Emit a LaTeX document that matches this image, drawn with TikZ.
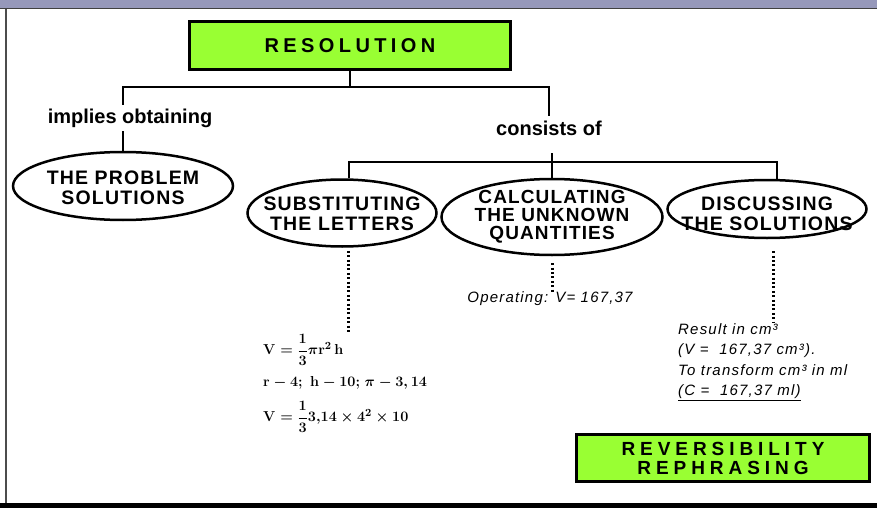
\documentclass[tikz,border=0pt]{standalone}
\usepackage{fontspec}
\setsansfont{Liberation Sans}
\newfontface\titleface[LetterSpace=22]{Liberation Sans Bold}
\newfontface\revface[LetterSpace=26]{Liberation Sans Bold}
\newfontface\ovalface[LetterSpace=6]{Liberation Sans Bold}
\newfontface\noteface[LetterSpace=8]{Liberation Sans Italic}
\usepackage{amsmath}
\usetikzlibrary{positioning,calc,shapes.geometric}
\definecolor{limegreen}{RGB}{153,255,51}
\definecolor{framebar}{RGB}{150,152,186}

\begin{document}
\begin{tikzpicture}[x=1pt,y=-1pt,
    titlebox/.style={draw=black,line width=3pt,fill=limegreen,inner sep=0pt,align=center},
    oval/.style={ellipse,draw=black,line width=2.5pt,inner sep=0pt},
    ovaltext/.style={align=center,inner sep=0pt,font=\ovalface\fontsize{19.5}{19.5}\selectfont},
    link/.style={fill=white,inner xsep=2pt,inner ysep=4pt,
      font=\sffamily\bfseries\fontsize{20}{22}\selectfont},
    note/.style={align=left,inner sep=0pt,font=\noteface\fontsize{15}{20.5}\selectfont},
    formula/.style={anchor=west,inner sep=0pt,font=\fontsize{15.5}{18}\selectfont\boldmath},
    joint/.style={line width=2.5pt},
    dots/.style={line width=3pt,dash pattern=on 2pt off 2.4pt}]
  \useasboundingbox (0,0) rectangle (877,508);
  % window frame
  \fill[framebar] (0,0) rectangle (877,8);
  \draw[line width=1.2pt,black!75] (0,8.6) -- (877,8.6);
  \draw[line width=2pt,black!70] (5.5,9) -- (5.5,504);
  \fill[black] (0,503) rectangle (877,508);

  % main boxes
  \node[titlebox,minimum width=321,minimum height=48,
    font=\titleface\fontsize{20}{22}\selectfont]
    (res) at (350,45.5) {RESOLUTION};
  \node[titlebox,minimum width=293,minimum height=47,
    font=\revface\fontsize{19}{19}\selectfont]
    (rev) at (723,458) {REVERSIBILITY\\REPHRASING};

  % ellipses
  \node[oval,minimum width=220,minimum height=68] (prob) at (123,186) {};
  \node[ovaltext] at ($(prob)+(0,2)$) {THE PROBLEM\\SOLUTIONS};
  \node[oval,minimum width=189,minimum height=67] (sub) at (342,213) {};
  \node[ovaltext] at ($(sub)+(0,1)$) {SUBSTITUTING\\THE LETTERS};
  \node[oval,minimum width=221,minimum height=76] (calc) at (552,217) {};
  \node[ovaltext,font=\ovalface\fontsize{19}{18}\selectfont] at (calc)
    {CALCULATING\\THE UNKNOWN\\QUANTITIES};
  \node[oval,minimum width=199,minimum height=58] (disc) at (767,209) {};
  \node[ovaltext] at ($(disc)+(0,5)$) {DISCUSSING\\THE SOLUTIONS};

  \node[link] (cons) at (549,128) {consists of};
  \coordinate (top) at (350,87);
  \coordinate (mid) at (552,162);

  % worked values
  \node[formula] (f1) at (263,350) {$\mathbf{V}=\dfrac{\mathbf{1}}{\mathbf{3}}\pi\mathbf{r}^{\mathbf{2}}\,\mathbf{h}$};
  \node[formula] (f2) at (263,383) {$\mathbf{r}-\mathbf{4;\ h}-\mathbf{10;}\ \pi-\mathbf{3,14}$};
  \node[formula] (f3) at (263,417) {$\mathbf{V}=\dfrac{\mathbf{1}}{\mathbf{3}}\mathbf{3{,}14}\times\mathbf{4}^{\mathbf{2}}\times\mathbf{10}$};
  \node[note] (op) at (550,299) {Operating: V= 167,37};
  \node[note,anchor=north west] (res2) at (678,323)
    {Result in cm³\\(V =~ 167,37 cm³).\\To transform cm³ in ml\\\underline{(C =~ 167,37 ml)}};

  % connectors
  \draw[joint] (res.south) -- (top);
  \draw[joint] (prob.north) |- (top) -| (cons.north);
  \draw[joint] (calc.north) -- ++(0,-25);
  \draw[joint] ($(sub.north)+(7,0)$) |- (mid) -| ($(disc.north)+(10,0)$);
  \draw[dots] (sub.south) ++(6,3) coordinate (s1) -- (s1 |- f1.north);
  \draw[dots] (calc.south) ++(0,7) coordinate (c1) -- (c1 |- op.north);
  \draw[dots] (disc.south) ++(6,12) coordinate (d1) -- (d1 |- res2.north);

  \node[link] (impl) at (130,118) {implies obtaining};
\end{tikzpicture}
\end{document}
